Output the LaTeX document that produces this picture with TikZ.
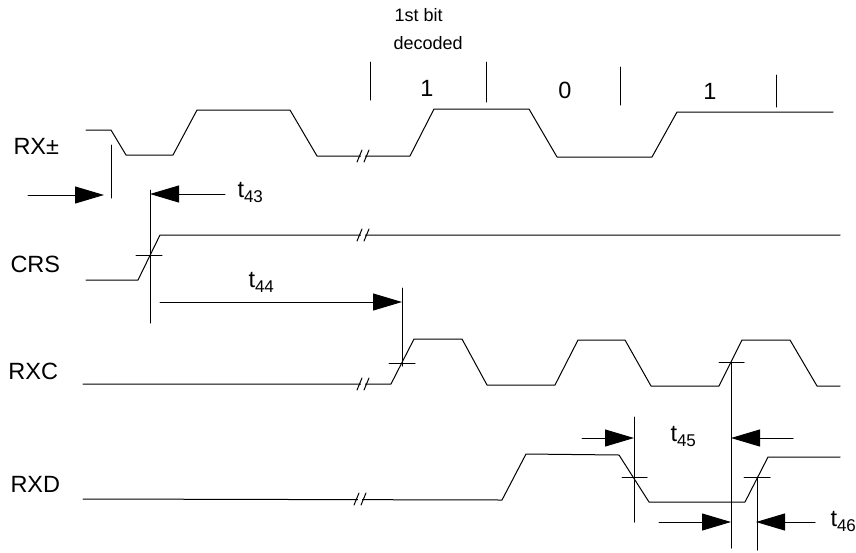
\documentclass[tikz,border=0pt]{standalone}
\usepackage{fontspec}
\setmainfont{Liberation Sans}
\usetikzlibrary{arrows.meta}
\newcommand{\tsub}[1]{t{\fontsize{17}{17}\selectfont\raisebox{-5pt}{#1}}}
\begin{document}
\begin{tikzpicture}[x=1pt, y=-1pt, line width=1pt, line join=round, line cap=round,
		>={Triangle[length=29pt,width=17pt]}, font=\fontsize{23.5}{26}\selectfont,
		small/.style={font=\fontsize{18}{20}\selectfont}]
		\useasboundingbox (0,0) rectangle (856,552);
		\path (104,195) coordinate (A1) (28,195) coordinate (B1)
		(150,194) coordinate (A43) (225,194) coordinate (B43)
		(402,302) coordinate (A44) (160,302) coordinate (B44)
		(634,438) coordinate (A45) (582,438) coordinate (B45)
		(731,438) coordinate (C45) (793,438) coordinate (D45)
		(731,522) coordinate (A46) (659,522) coordinate (B46)
		(756,522) coordinate (C46) (815,522) coordinate (D46)
		;
		% signals
		\draw (86,130)--(111,130)--(126,155)--(173,155)--(197,110)--(290,110)--(317,156)
		--(410,156)--(434,109)--(529,109)--(557,157)--(652,157)--(677,112)--(833,112);
		\draw (86,280)--(138,280)--(160,235)--(840,235);
		\draw (83,384)--(391,384)--(414,339)--(462,339)--(487,385)--(555,385)--(578,340)
		--(625,340)--(651,386)--(719,386)--(742,340)--(790,340)--(817,386)--(840,386);
		\draw (83,499)--(502,500)--(526,454)--(619,455)--(649,502)--(745,502)--(768,457)--(840,457);
		\foreach \x/\y in {363/156,363/235,363/384,360/499}
		{\fill[white] ({\x-2},{\y-7}) rectangle ({\x+2},{\y+7});
		\draw ({\x-6},{\y+6})--({\x-1},{\y-6}) ({\x+1},{\y+6})--({\x+6},{\y-6});}
		% bit marks
		\foreach \x/\a/\b in {370/62/100,486/62/102,620/67/105,776/75/107}
		\draw (\x,\a)--(\x,\b);
		% reference lines and ticks
		\draw (111,145)--(111,198) (150,190)--(150,323) (402,288)--(402,366)
		(731,362)--(731,548) (634,417)--(634,522) (757,477)--(757,550);
		\draw (136,255)--(162,255) (389,363)--(415,363) (719,362)--(744,362)
		(622,477)--(647,477) (744,477)--(770,477);
		% timing arrows
		\foreach \s/\e in {B1/A1,B43/A43,B44/A44,B45/A45,D45/C45,B46/A46,D46/C46}
		\draw[->] (\s)--(\e);
		% labels
		\node[anchor=base west, inner sep=0] (rxlbl) at (13,154) {RX±};
		\node[anchor=base west, inner sep=0] (crslbl) at (10,272) {CRS};
		\node[anchor=base west, inner sep=0] (rxclbl) at (8,379) {RXC};
		\node[anchor=base west, inner sep=0] (rxdlbl) at (10,492) {RXD};
		\node[anchor=base, inner sep=0] (bit1) at (427,96) {1};
		\node[anchor=base, inner sep=0] (bit2) at (565,98) {0};
		\node[anchor=base, inner sep=0] (bit3) at (710,99) {1};
		\node[small, anchor=base west, inner sep=0] (first) at (394,21) {1st bit};
		\node[small, anchor=base west, inner sep=0] (decoded) at (393,49) {decoded};
		\node[anchor=base west, inner sep=0] (t43) at (237,197) {\tsub{43}};
		\node[anchor=base west, inner sep=0] (t44) at (248,287) {\tsub{44}};
		\node[anchor=base west, inner sep=0] (t45) at (670,441) {\tsub{45}};
		\node[anchor=base west, inner sep=0] (t46) at (830,526) {\tsub{46}};
	\end{tikzpicture}
\end{document}
